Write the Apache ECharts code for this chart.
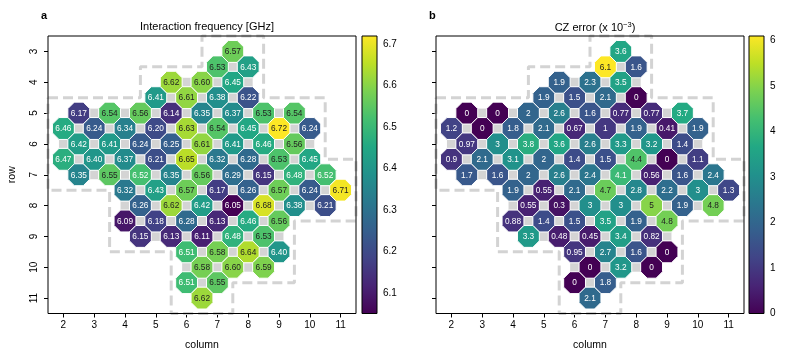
<!DOCTYPE html>
<html><head><meta charset="utf-8">
<script src="https://cdn.jsdelivr.net/npm/echarts@6/dist/echarts.min.js"></script>
<style>html,body{margin:0;padding:0;background:#fff}#c{width:793px;height:362px}</style>
</head><body><div id="c"></div>
<script>
// ---------- data ----------
// coupler rows (y), first column in each row (x); columns step by 1 along a row
const rowPos      = [3, 3.5, 4, 4.5, 5, 5.5, 6, 6.5, 7, 7.5, 8, 8.5, 9, 9.5, 10, 10.5, 11];
const rowFirstCol = [7.5, 7, 5.5, 5, 2.5, 2, 2.5, 2, 2.5, 4, 4.5, 4, 4.5, 6, 6.5, 6, 6.5];
// Interaction frequency [GHz]
const freqRows = [
  [6.57],
  [6.53, 6.43],
  [6.62, 6.60, 6.45],
  [6.41, 6.61, 6.38, 6.22],
  [6.17, 6.54, 6.56, 6.14, 6.35, 6.37, 6.53, 6.54],
  [6.46, 6.24, 6.34, 6.20, 6.63, 6.54, 6.45, 6.72, 6.24],
  [6.42, 6.41, 6.24, 6.25, 6.61, 6.41, 6.46, 6.56],
  [6.47, 6.40, 6.37, 6.21, 6.65, 6.32, 6.28, 6.53, 6.45],
  [6.35, 6.55, 6.52, 6.35, 6.56, 6.29, 6.15, 6.48, 6.52],
  [6.32, 6.43, 6.57, 6.17, 6.26, 6.57, 6.24, 6.71],
  [6.26, 6.62, 6.42, 6.05, 6.68, 6.38, 6.21],
  [6.09, 6.18, 6.28, 6.13, 6.46, 6.56],
  [6.15, 6.13, 6.11, 6.48, 6.53],
  [6.51, 6.58, 6.64, 6.40],
  [6.58, 6.60, 6.59],
  [6.51, 6.55],
  [6.62]
];
// CZ error (x 10^-3)
const czRows = [
  [3.6],
  [6.1, 1.6],
  [1.9, 2.3, 3.5],
  [1.9, 1.5, 2.1, 0],
  [0, 0, 2, 2.6, 1.6, 0.77, 0.77, 3.7],
  [1.2, 0, 1.8, 2.1, 0.67, 1, 1.9, 0.41, 1.9],
  [0.97, 3, 3.8, 3.6, 2.6, 3.3, 3.2, 1.4],
  [0.9, 2.1, 3.1, 2, 1.4, 1.5, 4.4, 0, 1.1],
  [1.7, 1.6, 2, 2.6, 2.4, 4.1, 0.56, 1.6, 2.4],
  [1.9, 0.55, 2.1, 4.7, 2.8, 2.2, 3, 1.3],
  [0.55, 0.3, 3, 3, 5, 1.9, 4.8],
  [0.88, 1.4, 1.5, 3.5, 1.9, 4.8],
  [3.3, 0.48, 0.45, 3.4, 0.82],
  [0.95, 2.7, 1.6, 0],
  [0, 3.2, 0],
  [0, 1.8],
  [2.1]
];
// dashed region outline (column,row vertices)
const outlineCols = [1.5, 4.5, 4.5, 6.5, 6.5, 8.5, 8.5, 10.5, 10.5, 11.5, 11.5, 9.5, 9.5, 7.5, 7.5, 5.5, 5.5, 3.5, 3.5, 1.5, 1.5];
const outlineRows = [4.5, 4.5, 3.5, 3.5, 2.5, 2.5, 4.5, 4.5, 6.5, 6.5, 8.5, 8.5, 10.5, 10.5, 11.5, 11.5, 9.5, 9.5, 7.5, 7.5, 4.5];
const colTicks = [2, 3, 4, 5, 6, 7, 8, 9, 10, 11];
const rowTicks = [3, 4, 5, 6, 7, 8, 9, 10, 11];
const freqRange = [6.05, 6.72];
const freqBarTicks = [6.1, 6.2, 6.3, 6.4, 6.5, 6.6, 6.7];
const czRange = [0, 6.1];
const czBarTicks = [0, 1, 2, 3, 4, 5, 6];

// ---------- helpers ----------
const viridis = ['#440154','#482475','#414487','#355f8d','#2a788e','#21918c','#22a884','#44bf70','#7ad151','#bddf26','#fde725'];
const FONT = '"Liberation Sans", Arial, Helvetica, sans-serif';

function buildCells(valsByRow) {
  const out = [];
  rowPos.forEach((r, i) => valsByRow[i].forEach((v, j) => out.push([rowFirstCol[i] + j, r, v])));
  return out;
}
const freqCells = buildCells(freqRows);
const czCells = buildCells(czRows);
const outline = outlineCols.map((c, i) => [c, outlineRows[i]]);

function junctions(cells) {
  const m = new Map();
  cells.forEach(([x, y]) => {
    [[x - 0.5, y], [x + 0.5, y], [x, y - 0.5], [x, y + 0.5]].forEach(p => {
      const k = p.join(',');
      m.set(k, (m.get(k) || 0) + 1);
    });
  });
  return [...m].filter(([k, n]) => n >= 3).map(([k]) => k.split(',').map(Number));
}

const CLIP = 0.29;
function makeCellRender(range, fmt) {
  return function (params, api) {
    const x = api.value(0), y = api.value(1), v = api.value(2);
    const c = api.coord([x, y]);
    const rx = Math.abs(api.coord([x + 0.5, y])[0] - c[0]);
    const ry = Math.abs(api.coord([x, y + 0.5])[1] - c[1]);
    const kx = rx * CLIP, ky = ry * CLIP;
    const X = c[0], Y = c[1];
    const pts = [
      [X + kx, Y - ry + ky], [X + rx - kx, Y - ky], [X + rx - kx, Y + ky], [X + kx, Y + ry - ky],
      [X - kx, Y + ry - ky], [X - rx + kx, Y + ky], [X - rx + kx, Y - ky], [X - kx, Y - ry + ky]
    ];
    const t = (v - range[0]) / (range[1] - range[0]);
    return {
      type: 'group',
      children: [
        { type: 'polygon', shape: { points: pts }, style: { fill: api.visual('color'), stroke: '#fff', lineWidth: 1 } },
        { type: 'text', style: { text: fmt(v), x: X, y: Y + 0.5, align: 'center', verticalAlign: 'middle',
            fill: t > 0.705 ? '#222' : '#fff', font: '8.3px ' + FONT } }
      ]
    };
  };
}
function junctionRender(params, api) {
  const x = api.value(0), y = api.value(1);
  const c = api.coord([x, y]);
  const rx = Math.abs(api.coord([x + 0.5, y])[0] - c[0]) * CLIP;
  const ry = Math.abs(api.coord([x, y + 0.5])[1] - c[1]) * CLIP;
  return { type: 'rect', shape: { x: c[0] - rx, y: c[1] - ry, width: 2 * rx, height: 2 * ry }, style: { fill: '#d4d4d4' } };
}
function frameRender(params) {
  const cs = params.coordSys;
  return { type: 'rect', shape: { x: cs.x, y: cs.y, width: cs.width, height: cs.height },
    style: { fill: 'none', stroke: '#000', lineWidth: 1 } };
}
function colorbarRender(range) {
  return function (params, api) {
    const p0 = api.coord([0, range[1]]), p1 = api.coord([1, range[0]]);
    return { type: 'rect', shape: { x: p0[0], y: p0[1], width: p1[0] - p0[0], height: p1[1] - p0[1] },
      style: { fill: new echarts.graphic.LinearGradient(0, 1, 0, 0, viridis.map((c, i) => ({ offset: i / (viridis.length - 1), color: c }))),
        stroke: '#000', lineWidth: 1 } };
  };
}
const fmtA = v => v.toFixed(2);
const fmtB = v => String(Number(v.toPrecision(2)));

const PLOT_W = 308, PLOT_H = 277.5, TOP = 36;
const grids = [
  { left: 48, top: TOP, width: PLOT_W, height: PLOT_H },
  { left: 436, top: TOP, width: PLOT_W, height: PLOT_H },
  { left: 362, top: TOP, width: 15, height: PLOT_H },
  { left: 749, top: TOP, width: 15, height: PLOT_H }
];
const axisText = { color: '#000', fontSize: 10, fontFamily: FONT };
function xAx(gi) {
  return { type: 'value', gridIndex: gi, min: 1.5, max: 11.5, name: 'column', nameLocation: 'middle', nameGap: 26,
    nameTextStyle: { color: '#000', fontSize: 10.5, fontFamily: FONT },
    axisLine: { show: false }, splitLine: { show: false },
    axisTick: { show: true, length: 4, lineStyle: { color: '#000' }, customValues: colTicks },
    axisLabel: Object.assign({ margin: 7, customValues: colTicks }, axisText) };
}
function yAx(gi, labels) {
  return { type: 'value', gridIndex: gi, min: 2.5, max: 11.5, inverse: true,
    name: labels ? 'row' : '', nameLocation: 'middle', nameGap: 30, nameRotate: 90,
    nameTextStyle: { color: '#000', fontSize: 10.5, fontFamily: FONT },
    axisLine: { show: false }, splitLine: { show: false },
    axisTick: { show: true, length: 4, lineStyle: { color: '#000' }, customValues: rowTicks },
    axisLabel: Object.assign({ show: labels, margin: 9, rotate: 90, customValues: rowTicks }, axisText) };
}
function cbX(gi) { return { type: 'value', gridIndex: gi, min: 0, max: 1, show: false }; }
function cbY(gi, range, ticks) {
  return { type: 'value', gridIndex: gi, min: range[0], max: range[1], position: 'right',
    axisLine: { show: false }, splitLine: { show: false },
    axisTick: { show: true, length: 4, lineStyle: { color: '#000' }, customValues: ticks },
    axisLabel: Object.assign({ margin: 6, customValues: ticks }, axisText) };
}

function panelSeries(gi, cells, range, fmt) {
  return [
    { type: 'line', xAxisIndex: gi, yAxisIndex: gi, data: outline, showSymbol: false, silent: true, clip: false, z: 1,
      lineStyle: { color: '#d3d3d3', width: 3, type: [10, 5] } },
    { type: 'custom', xAxisIndex: gi, yAxisIndex: gi, data: junctions(cells), renderItem: junctionRender, silent: true, z: 2 },
    { type: 'custom', xAxisIndex: gi, yAxisIndex: gi, data: cells, renderItem: makeCellRender(range, fmt), silent: true, z: 3,
      encode: { x: 0, y: 1 } },
    { type: 'custom', xAxisIndex: gi, yAxisIndex: gi, data: [0], renderItem: frameRender, silent: true, z: 5 }
  ];
}
const seriesA = panelSeries(0, freqCells, freqRange, fmtA);
const seriesB = panelSeries(1, czCells, czRange, fmtB);

const option = {
  animation: false,
  backgroundColor: '#fff',
  title: [
    { text: 'Interaction frequency [GHz]', left: 202, top: 16, textAlign: 'center',
      textStyle: { fontSize: 11, fontWeight: 'normal', color: '#000', fontFamily: FONT } },
    { text: 'CZ error (x 10{s|−3})', left: 590, top: 16, textAlign: 'center',
      textStyle: { fontSize: 11, fontWeight: 'normal', color: '#000', fontFamily: FONT,
        rich: { s: { fontSize: 7.5, verticalAlign: 'top', padding: [0, 0, 6, 0], fontFamily: FONT, color: '#000' } } } },
    { text: 'a', left: 36, top: 5, textStyle: { fontSize: 11, fontWeight: 'bold', color: '#000', fontFamily: FONT } },
    { text: 'b', left: 424, top: 5, textStyle: { fontSize: 11, fontWeight: 'bold', color: '#000', fontFamily: FONT } }
  ],
  grid: grids,
  xAxis: [xAx(0), xAx(1), cbX(2), cbX(3)],
  yAxis: [yAx(0, true), yAx(1, false), cbY(2, freqRange, freqBarTicks), cbY(3, czRange, czBarTicks)],
  visualMap: [
    { type: 'continuous', show: false, seriesIndex: 2, dimension: 2, min: freqRange[0], max: freqRange[1], inRange: { color: viridis } },
    { type: 'continuous', show: false, seriesIndex: 6, dimension: 2, min: czRange[0], max: czRange[1], inRange: { color: viridis } }
  ],
  series: seriesA.concat(seriesB).concat([
    { type: 'custom', xAxisIndex: 2, yAxisIndex: 2, data: [0], renderItem: colorbarRender(freqRange), silent: true },
    { type: 'custom', xAxisIndex: 3, yAxisIndex: 3, data: [0], renderItem: colorbarRender(czRange), silent: true }
  ])
};
const chart = echarts.init(document.getElementById('c'), null, { renderer: 'canvas' });
chart.setOption(option);
</script>
</body></html>
